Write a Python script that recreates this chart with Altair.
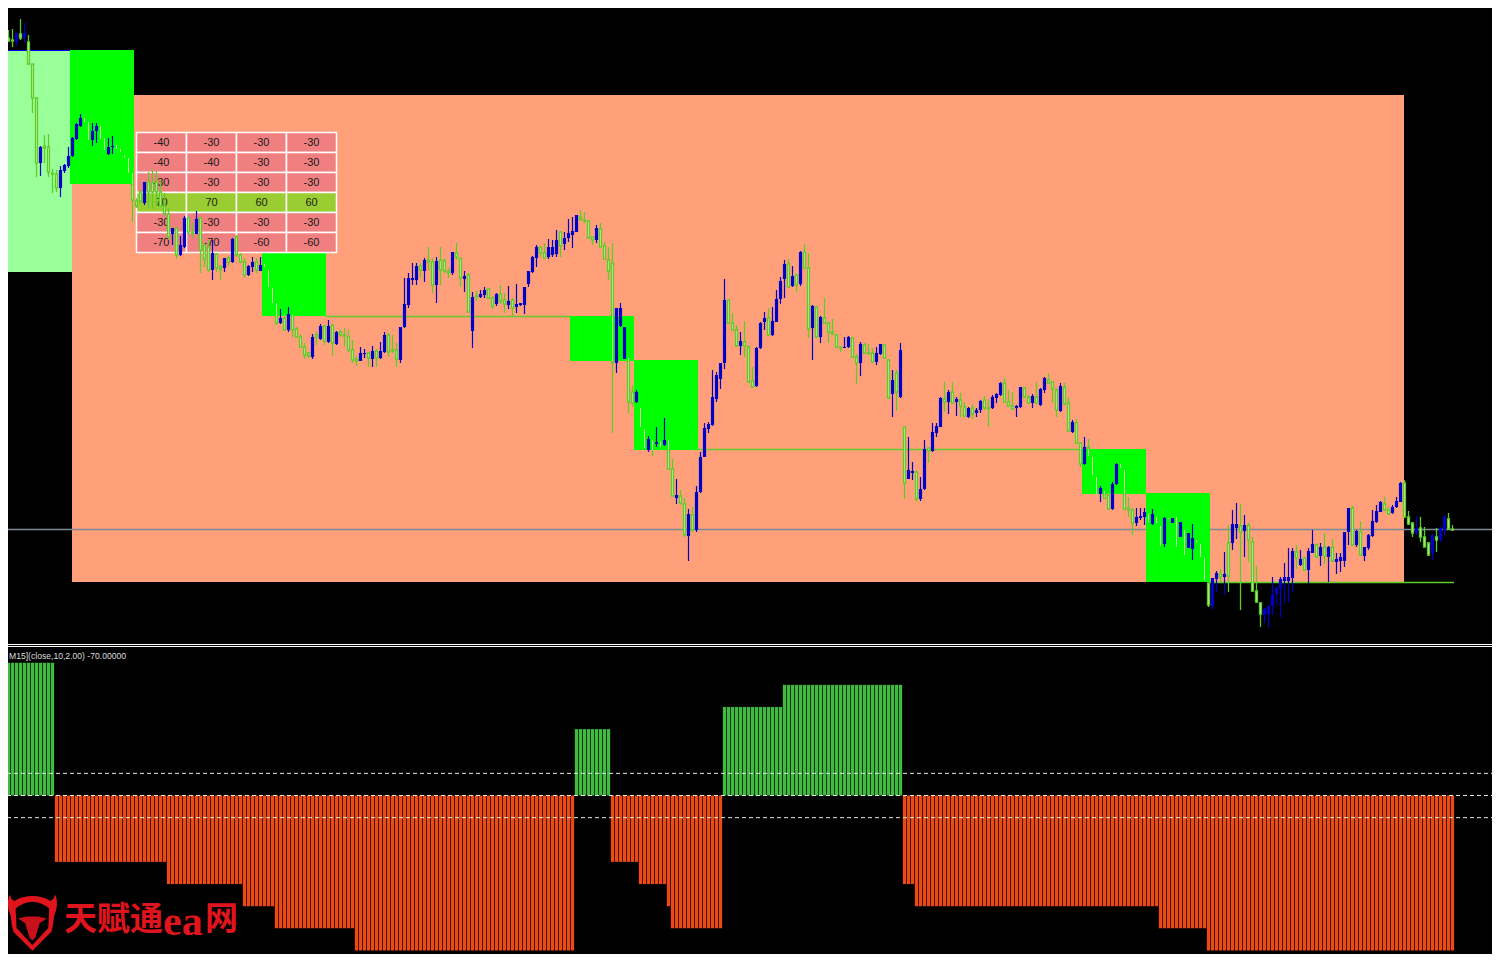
import altair as alt
import pandas as pd

# ---- candles: price levels are read on the chart's own (downward) level scale ----
body_top = [
 38,38,40,33,34,33,42,64,98,147, 146,147,173,174,170,165,156,138,124,118,
 119,124,131,126,127,140,147,146,146,150, 156,160,173,201,192,182,182,183,182,192,
 206,214,228,228,245,218,218,232,219,218, 245,247,253,254,267,258,258,239,237,255,
 262,266,262,262,265,265,270,288,305,318, 318,314,316,329,337,347,353,337,335,326,
 326,326,325,332,332,335,337,350,359,353, 353,353,351,351,351,335,335,350,350,327,
 304,278,278,266,266,260,260,262,261,260, 261,271,252,253,258,276,275,297,296,294,
 290,289,298,294,294,300,301,300,304,303, 287,271,257,247,247,253,247,247,240,232,
 238,233,231,215,217,220,221,237,228,229, 246,260,263,308,308,327,359,392,392,408,
 429,439,440,442,442,440,443,469,495,496, 504,514,515,492,457,428,424,397,375,363,
 300,300,323,330,341,342,347,381,348,323, 318,318,321,299,281,264,264,276,275,252,
 252,268,306,307,317,318,323,332,335,347, 347,337,338,357,344,345,353,353,353,344,
 345,360,380,373,350,427,470,471,472,489, 449,448,432,426,398,399,392,392,399,400,
 407,408,408,410,401,400,408,397,394,383, 383,402,406,406,387,388,397,396,397,389,
 378,380,382,390,386,387,403,422,423,443, 447,447,457,477,488,491,495,484,464,464,
 471,508,510,517,516,512,514,514,517,526, 518,518,518,520,522,532,533,538,540,544,
 558,583,578,573,574,574,543,524,524,526, 525,525,542,591,603,609,606,595,588,579,
 577,577,551,552,559,558,551,544,545,547, 547,547,547,559,557,532,508,508,531,532,
 547,535,521,511,502,504,510,507,501,483, 483,517,523,528,528,537,543,535,537,528,
 517,519,529]
body_bottom = [
 50,41,41,42,38,38,64,98,163,163, 148,172,174,188,188,171,166,156,139,126,
 120,139,140,131,138,142,154,147,148,151, 157,173,200,206,201,203,192,192,192,206,
 214,237,234,255,255,247,232,233,234,250, 259,270,270,268,269,268,262,262,255,262,
 275,275,267,270,271,266,287,303,323,323, 330,330,330,337,347,355,356,357,337,339,
 341,342,343,344,335,336,350,360,361,361, 354,358,359,358,358,352,352,351,359,360,
 327,305,280,280,270,271,262,285,285,270, 271,273,273,257,278,279,312,331,297,297,
 295,298,306,304,301,304,305,308,307,305, 305,284,272,258,253,258,257,255,254,246,
 244,238,235,232,219,221,238,240,240,247, 259,271,363,363,326,359,402,403,402,427,
 448,450,448,444,445,445,469,496,498,503, 535,536,530,530,492,457,429,425,399,379,
 363,323,330,346,346,346,382,387,386,348, 322,335,335,322,299,279,287,286,285,284,
 268,329,328,337,337,323,332,334,347,348, 348,347,357,363,363,353,354,362,362,354,
 358,398,394,392,397,483,479,473,499,499, 489,451,451,433,427,402,402,403,402,406,
 416,417,414,413,410,408,409,408,398,395, 402,406,409,408,407,397,403,403,403,405,
 390,383,389,410,411,404,431,432,443,464, 464,455,475,494,494,498,509,509,484,468,
 509,510,523,523,518,517,522,524,523,546, 544,519,523,525,537,538,548,549,543,557,
 580,605,606,579,577,577,576,543,528,532, 531,540,591,602,614,615,614,606,594,589,
 581,581,578,558,565,570,570,553,557,556, 556,557,561,562,561,561,532,545,545,555,
 556,548,536,522,512,510,514,513,507,502, 517,524,533,533,537,547,555,553,540,540,
 530,529,530]
wick_high = [
 36,30,29,33,19,23,35,64,98,146, 135,134,169,170,166,164,147,137,123,114,
 118,122,123,123,126,138,138,136,145,149, 155,158,173,198,190,182,172,169,171,180,
 193,208,228,228,236,216,217,223,211,217, 243,240,240,253,265,258,256,238,235,253,
 258,265,257,258,257,264,270,288,303,309, 315,307,315,327,334,343,352,334,332,324,
 325,320,324,331,330,328,330,340,356,347, 349,352,346,349,342,332,333,335,343,327,
 278,273,263,263,263,258,247,258,257,247, 258,268,252,243,258,271,273,292,291,290,
 287,288,296,293,285,293,286,298,284,303, 287,271,256,245,247,243,239,240,230,231,
 232,219,217,215,210,212,220,237,225,223, 242,247,243,308,303,327,358,385,390,408,
 429,436,440,427,441,418,440,459,479,490, 498,509,507,486,452,423,422,370,372,363,
 279,299,313,325,332,321,345,367,347,322, 312,308,307,290,277,260,259,266,274,251,
 244,253,305,306,316,298,322,319,334,346, 337,336,337,354,342,343,344,348,347,344,
 344,359,370,370,343,427,437,462,470,477, 440,447,423,423,397,382,390,382,397,393,
 402,407,404,408,400,396,399,395,393,382, 378,390,392,405,387,387,395,394,382,388,
 377,373,381,388,383,383,397,420,419,442, 437,439,457,477,486,491,493,482,463,464,
 470,497,508,508,508,508,514,509,517,526, 517,518,518,517,522,530,533,524,540,544,
 558,582,578,571,569,552,525,510,503,504, 515,523,537,566,602,608,605,577,587,577,
 563,548,548,545,550,557,548,530,543,543, 533,546,539,553,553,532,508,506,530,521,
 547,534,510,505,501,497,507,505,497,482, 480,511,522,516,517,527,542,534,528,527,
 515,513,525]
wick_low = [
 50,42,47,46,40,43,65,113,177,176, 163,177,193,192,197,173,168,157,140,127,
 122,140,146,143,139,150,155,154,149,152, 158,173,222,208,203,205,208,209,206,207,
 215,240,245,259,256,248,235,238,234,273, 267,272,280,272,280,272,266,263,257,263,
 278,276,272,273,271,267,287,303,325,324, 331,332,337,338,348,359,358,359,345,340,
 345,343,356,345,337,346,352,363,366,361, 358,367,367,367,359,353,357,353,367,363,
 328,308,285,285,278,282,270,293,303,285, 273,278,275,260,287,292,313,348,301,298,
 298,298,309,306,304,313,309,317,313,306, 314,287,273,267,257,258,259,257,257,257,
 250,242,248,232,221,223,239,245,243,247, 259,280,433,373,327,359,413,407,403,427,
 448,452,456,447,447,446,470,496,504,505, 537,561,532,532,493,457,433,426,402,389,
 369,324,331,347,355,357,383,388,387,349, 330,336,336,322,304,298,287,287,292,286,
 269,338,360,338,343,323,343,335,347,352, 348,348,358,384,376,353,354,363,365,355,
 359,399,417,411,398,499,479,480,502,501, 490,463,452,437,427,412,414,403,416,417,
 417,418,419,417,413,410,427,409,403,396, 402,407,410,417,408,398,404,408,403,406,
 393,384,403,417,412,405,432,433,443,467, 465,456,475,494,502,498,510,510,485,468,
 510,517,535,526,520,525,522,525,523,546, 547,519,523,547,537,555,548,560,543,557,
 580,607,610,592,582,595,592,550,539,610, 557,562,592,603,627,623,628,615,605,617,
 603,602,592,569,566,571,583,553,558,566, 564,582,562,574,572,567,545,546,547,556,
 561,550,537,523,512,511,515,514,508,502, 518,525,537,535,542,547,556,560,552,542,
 535,530,531]
candle_kind = (
 "BGGBGBGGGB" "GGGGBBBBBB" "GGBBGGBBGG" "GGGGGBGGGG" "GGBGBBGGBG"
 "GGBGGBGBGG" "GBBGBGGGGB" "GBGGGGGBGB" "GBGBGGGGGB" "BGBGBBGGGB"
 "BBBBGBGGBG" "GGBGGBGBGB" "BGGBGGBGBB" "BBBBGGBBBG" "BBBBGGGGBG"
 "GGGBBBGGBG" "GBGBGBGGBG" "GBGBBBBBBB" "BGGGBGGGBB" "BGBBBBGBGB"
 "GGBGBGGGGG" "BBGGBGGGBB" "GGBGBGBBGB" "BGBBBGBGBG" "GBGBBGGBBB"
 "GGGBBGGBGB" "BGGGBGGBGG" "BGGGBGGBBG" "GGGBBBGBGG" "BGBGBGBBGG"
 "GGBBGBGBBG" "BGGGGBBBBB" "BBBGBGBBGB" "GBGBBBBGBG" "BBBBBGGBBB"
 "GGGBGGGBGB" "BGG")

# ---- time-anchored boxes and levels, in bar numbers ----
box_from = [0, 1.5, 1.5, 18]
box_to = [1.5, 18, 17.5, 351]
box_top = [50, 51, 50, 95]
box_bottom = [140, 272, 51, 582]
box_color = ["#0000ff", "#99ff99", "#0000ff", "#ffa07a"]

zone_from = [17.5, 65.5, 142.5, 158.5, 270.5, 286.5]
zone_to = [33.5, 81.5, 158.5, 174.5, 286.5, 302.5]
zone_top = [50, 252, 316, 360, 449, 493]
zone_bottom = [184, 316, 361, 450, 494, 582]

level_from = [81.5, 174.5, 302.5]
level_to = [142.5, 270.5, 363.5]
level_row = [316.5, 449.5, 582.5]

# ---- signal table ----
table_rows = [[-40, -30, -30, -30], [-40, -40, -30, -30], [-30, -30, -30, -30],
              [70, 70, 60, 60], [-30, -30, -30, -30], [-70, -70, -60, -60]]

# ---- indicator histogram as runs: (value, number of bars) ----
hist_values = [60, -30, -40, -50, -60, -70, 30, -30, -40, -50, -60, 40, 50, -40, -50, -60, -70]
hist_lengths = [14, 28, 19, 8, 20, 55, 9, 7, 7, 1, 13, 15, 30, 3, 61, 12, 62]
hist_levels = [10, 0, -10]

GREEN = "#5fcc2a"
PALE = "#cdeba6"
BLUE = "#0000c8"
SLOT = 0.125  # centre of a bar inside its slot

xs = alt.Scale(domain=[2, 373], nice=False, zero=False, padding=0)
ys = alt.Scale(domain=[954, 8], nice=False, zero=False)
hs = alt.Scale(domain=[-71.58, 355.68], nice=False, zero=False)


def X(f):
    return alt.X(f, type="quantitative", scale=xs, axis=None)


def Y(f, s=ys):
    return alt.Y(f, type="quantitative", scale=s, axis=None)


def boxes(df, **kw):
    return alt.Chart(df).mark_rect(**kw).encode(
        x=X("a"), x2="b", y=Y("t"), y2="u",
        color=alt.Color("c:N", scale=None, legend=None))


def hlines(df, color, width=1.0):
    return alt.Chart(df).mark_rule(color=color, strokeWidth=width).encode(x=X("a"), x2="b", y=Y("y"))


def split(lo, hi, bar):
    """Cut a vertical span where it crosses a bright zone."""
    for a, b, t, u in zip(zone_from, zone_to, zone_top, zone_bottom):
        if a <= bar <= b and hi > t and lo < u:
            out = []
            if lo < t:
                out.append((lo, t, False))
            out.append((max(lo, t), min(hi, u), True))
            if hi > u:
                out.append((u, hi, False))
            return out
    return [(lo, hi, False)]


blue_w, blue_b, green_w, green_b, pale = [], [], [], [], []
for i, kind in enumerate(candle_kind):
    bar = i + 1
    x = bar + SLOT
    t, u, h, l = body_top[i], body_bottom[i], wick_high[i], wick_low[i]
    if kind == "B":
        blue_w.append({"x": x, "y": h, "y2": l})
        blue_b.append({"x": x, "y": t, "y2": max(u, t + 1)})
    else:
        for lo, hi in ((h, t), (u, l)):
            if hi > lo:
                for a, b, inz in split(lo, hi, bar):
                    (pale if inz else green_w).append({"x": x, "y": a, "y2": b})
        for a, b, inz in split(t, max(u, t + 1), bar):
            (pale if inz else green_b).append({"x": x, "y": a, "y2": b})


def wicks(rows, color, width=1.0):
    return alt.Chart(pd.DataFrame(rows)).mark_rule(color=color, strokeWidth=width).encode(
        x=X("x"), y=Y("y"), y2="y2")


def bodies(rows, **kw):
    return alt.Chart(pd.DataFrame(rows)).mark_bar(**kw).encode(x=X("x"), y=Y("y"), y2="y2")


box_df = pd.DataFrame({"a": box_from, "b": box_to, "t": box_top, "u": box_bottom, "c": box_color})
zone_df = pd.DataFrame({"a": zone_from, "b": zone_to, "t": zone_top, "u": zone_bottom,
                        "c": ["#00ff00"] * len(zone_from)})
level_df = pd.DataFrame({"a": level_from, "b": level_to, "y": level_row})
price_df = pd.DataFrame({"a": [0], "b": [376], "y": [529.5]})
split_df = pd.DataFrame({"a": [0, 0], "b": [376, 376], "y": [644.5, 646.5]})

cells = []
for r, row in enumerate(table_rows):
    for c, v in enumerate(row):
        cells.append({"a": 34.125 + 12.5 * c, "b": 34.125 + 12.5 * (c + 1), "m": 34.125 + 12.5 * (c + 0.5),
                      "t": 132.5 + 20 * r, "u": 152.5 + 20 * r, "mid": 142.5 + 20 * r, "v": str(v),
                      "c": "#9acd32" if v > 0 else "#f08080"})
cell_df = pd.DataFrame(cells)
table = boxes(cell_df, stroke="#ffffff", strokeWidth=1.5)
table_text = alt.Chart(cell_df).mark_text(font="Liberation Sans", fontSize=11, color="#1a1a1a").encode(
    x=X("m"), y=Y("mid"), text="v:N")

hist = []
bar = 0
for v, n in zip(hist_values, hist_lengths):
    for _ in range(n):
        hist.append({"x": bar + SLOT, "v": v, "z": 0, "c": "#3fbc3f" if v > 0 else "#ea4a14"})
        bar += 1
hist_df = pd.DataFrame(hist)
hist_bars = alt.Chart(hist_df).mark_bar(size=3.3).encode(
    x=X("x"), y=Y("z", hs), y2="v", color=alt.Color("c:N", scale=None, legend=None))
hist_lines = alt.Chart(pd.DataFrame({"a": [0] * 3, "b": [376] * 3, "y": hist_levels})).mark_rule(
    color="#e8e8e8", strokeWidth=1, strokeDash=[4, 3]).encode(x=X("a"), x2="b", y=Y("y", hs))

label = alt.Chart(pd.DataFrame({"x": [2.25], "y": [655.5], "t": ["M15](close,10,2.00) -70.00000"]})).mark_text(
    font="Liberation Sans", fontSize=8.6, align="left", color="#dddddd").encode(x=X("x"), y=Y("y"), text="t:N")


def brand(text, bar_x, row, font, size):
    return alt.Chart(pd.DataFrame({"x": [bar_x], "y": [row], "t": [text]})).mark_text(
        font=font, fontSize=size, fontWeight="bold", align="left", color="#e0141c").encode(
        x=X("x"), y=Y("y"), text="t:N")


SHIELD = ("M-0.93,-1.2 Q-0.9,-1 -0.76,-0.93 Q-0.4,-1.14 0,-1.14 Q0.4,-1.14 0.76,-0.93 Q0.9,-1 0.94,-1.2 "
          "C1.1,-0.9 1,-0.5 0.9,-0.3 L0.86,0.07 L0.79,0.35 L0,1.14 L-0.79,0.35 L-0.86,0.07 L-0.9,-0.3 "
          "C-1,-0.5 -1.1,-0.9 -0.93,-1.2 Z")
CAVITY = "M-0.7,-0.62 Q0,-1.18 0.7,-0.62 L0.66,0.2 L0,0.9 L-0.66,0.2 Z"
HEAD = "M-0.6,-0.2 L-0.24,-0.28 L0.24,-0.28 L0.6,-0.2 L0.3,0 L0.12,0.6 L0,0.72 L-0.12,0.6 L-0.3,0 Z"
logo_df = pd.DataFrame({"x": [8.1], "y": [923.3]})
logo = [alt.Chart(logo_df).mark_point(shape=p, filled=True, size=2304, color=c, opacity=1).encode(x=X("x"), y=Y("y"))
        for p, c in ((SHIELD, "#e0141c"), (CAVITY, "#000000"), (HEAD, "#c8101a"))]

chart = alt.layer(
    boxes(box_df),
    hlines(price_df, "#7d8a99", 1.5),
    boxes(zone_df),
    hlines(level_df, GREEN, 1.6),
    hlines(split_df, "#ffffff"),
    table,
    table_text,
    wicks(green_w, GREEN, 1.3),
    bodies(green_b, size=2, fill=PALE, stroke=GREEN, strokeWidth=1.3),
    wicks(pale, PALE),
    wicks(blue_w, BLUE, 1.2),
    bodies(blue_b, size=3.2, color=BLUE),
    hist_bars,
    hist_lines,
    label,
    brand("天赋通", 16, 920, "Noto Sans CJK SC", 33),
    brand("ea", 40.75, 922, "Liberation Serif", 42),
    brand("网", 51.25, 920, "Noto Sans CJK SC", 33),
    *logo,
).resolve_scale(y="independent").properties(
    width=1484, height=946, padding=0, background="#000000",
    autosize=alt.AutoSizeParams(type="none"),
).configure_view(stroke=None)

chart.save("out.html", embed_options={"renderer": "svg", "actions": False})
